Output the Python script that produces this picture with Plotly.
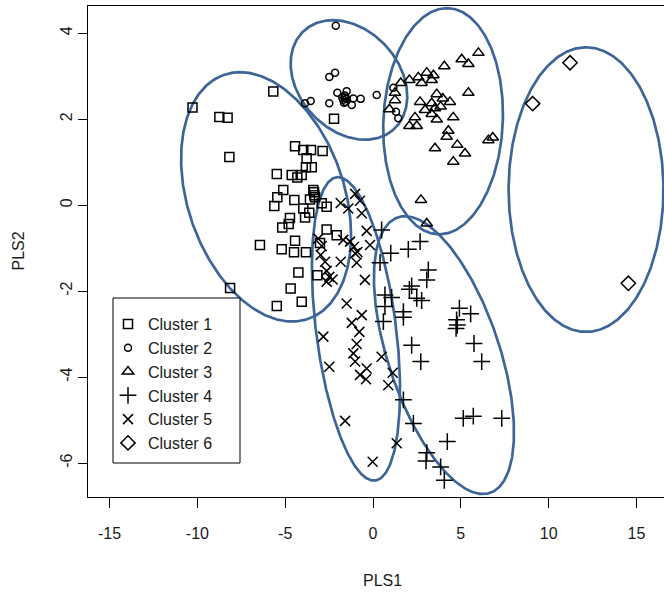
import numpy as np
import plotly.graph_objects as go

# ---------------- data ----------------
c1_x = [-10.28, -8.75, -8.28, -5.68, -2.22, -8.18, -4.44, -3.97, -3.53, -2.87, -3.78, -3.82, -3.49,
        -5.48, -4.63, -4.31, -4.06, -5.11, -5.45, -5.62, -4.48, -3.40, -3.34, -3.59, -3.97, -3.63,
        -2.92, -2.64, -4.73, -3.87, -5.17, -4.80, -6.44, -5.20, -4.44, -4.50, -3.82, -2.64, -2.07,
        -3.02, -4.25, -3.17, -4.69, -4.06, -5.48, -8.14, -3.36, -3.30]
c1_y = [2.27, 2.05, 2.03, 2.64, 2.01, 1.12, 1.37, 1.28, 1.28, 1.26, 1.09, 0.88, 0.88,
        0.72, 0.70, 0.64, 0.70, 0.35, 0.18, -0.02, 0.12, 0.35, 0.23, 0.13, -0.08, -0.18,
        0.04, -0.04, -0.30, -0.29, -0.52, -0.44, -0.93, -1.03, -0.83, -1.10, -1.10, -0.57, -0.70,
        -0.88, -1.57, -1.63, -1.94, -2.25, -2.35, -1.93, 0.30, 0.18]

c2_x = [-2.12, -2.49, -2.16, -3.55, -3.87, -2.49, -2.03, -1.50, -1.21, -1.12, -0.70, 0.21, 1.16,
        1.31, 1.44, -1.70, -1.60, -1.55, -1.65, -1.50, -1.60, -1.75]
c2_y = [4.17, 2.98, 3.08, 2.42, 2.37, 2.37, 2.61, 2.65, 2.33, 2.48, 2.47, 2.56, 2.73,
        2.17, 2.02, 2.45, 2.50, 2.40, 2.38, 2.47, 2.55, 2.50]

c3_x = [6.00, 5.05, 5.43, 4.06, 2.07, 2.58, 3.06, 3.44, 2.77, 3.34, 1.58, 1.25, 5.43, 2.68, 3.63,
        3.97, 4.38, 3.34, 3.53, 2.96, 3.85, 1.25, 0.93, 2.39, 2.07, 2.49, 3.34, 3.63, 4.57, 4.29,
        4.19, 4.80, 5.24, 3.53, 4.57, 6.82, 6.57, 2.73, 3.06]
c3_y = [3.54, 3.39, 3.28, 3.23, 2.91, 2.97, 3.08, 3.02, 2.84, 2.91, 2.84, 2.61, 2.61, 2.40, 2.58,
        2.48, 2.40, 2.37, 2.25, 2.21, 2.29, 2.44, 2.23, 2.04, 1.84, 1.84, 2.12, 1.99, 2.04, 1.73,
        1.59, 1.40, 1.20, 1.32, 1.01, 1.57, 1.51, 0.12, -0.43]

c4_x = [0.49, 2.68, 2.01, 1.01, 0.40, 3.15, 3.06, 2.20, 2.07, 0.68, 1.06, 2.49, 2.77, 0.68, 1.73,
        1.73, 0.59, 4.92, 5.56, 4.76, 4.80, 4.73, 2.20, 5.75, 2.72, 6.19, 1.73, 2.30, 5.14, 5.71,
        7.33, 4.23, 3.06, 3.02, 3.85, 4.06]
c4_y = [-0.58, -0.85, -1.03, -1.12, -1.34, -1.51, -1.74, -1.88, -1.96, -2.09, -2.15, -2.17, -2.22,
        -2.36, -2.48, -2.61, -2.71, -2.40, -2.53, -2.67, -2.79, -2.87, -3.26, -3.22, -3.64, -3.64,
        -4.53, -5.08, -4.96, -4.91, -4.96, -5.50, -5.76, -5.95, -6.09, -6.40]

c5_x = [-1.02, -0.74, -1.84, -1.41, -0.64, -0.36, -1.69, -1.31, -1.08, -0.89, -1.02, -0.17, -3.12,
        -2.92, -2.98, -2.73, -1.84, -0.93, -2.64, -2.49, -2.30, -2.64, -0.46, -1.50, -0.64, -1.21,
        -0.78, -2.83, -0.93, -1.12, -1.02, -2.49, -0.36, -0.74, -0.40, 0.49, 1.12, 0.87, -1.59,
        1.35, -0.02]
c5_y = [0.26, 0.10, 0.05, -0.08, -0.19, -0.60, -0.81, -0.85, -0.97, -1.09, -1.12, -0.93, -0.78,
        -0.95, -1.16, -1.32, -1.32, -1.34, -1.53, -1.67, -1.73, -1.78, -1.74, -2.29, -2.56, -2.74,
        -2.95, -3.06, -3.23, -3.45, -3.64, -3.76, -3.80, -3.95, -4.05, -3.53, -3.90, -4.19, -5.02,
        -5.54, -5.97]

c6_x = [11.22, 9.09, 14.54]
c6_y = [3.31, 2.36, -1.82]

cluster_names = ["Cluster 1", "Cluster 2", "Cluster 3", "Cluster 4", "Cluster 5", "Cluster 6"]

# ellipse parameters (data units): centre, topmost point, rightmost x
ell_cx = [-6.09, -1.37, 3.99, 4.04, -0.97, 12.13]
ell_cy = [0.19, 2.91, 1.95, -3.49, -2.88, 0.36]
ell_topx = [-7.57, -2.28, 4.21, 1.82, -1.99, 12.13]
ell_topy = [3.09, 4.30, 4.58, -0.26, 0.65, 3.67]
ell_right = [-1.25, 1.95, 7.40, 8.03, 1.54, 16.54]

x_ticks = [-15, -10, -5, 0, 5, 10, 15]
y_ticks = [-6, -4, -2, 0, 2, 4]

# ---------------- figure ----------------
FONT = "Arial, Liberation Sans, sans-serif"
ELL_COLOR = "#3E6597"
TXT = "#1a1a1a"
W, H = 664, 593
ML, MT, MB = 88, 6, 96
PW, PH = W - ML, H - MT - MB


def px_x(p):
    return (p - ML) / PW


def px_y(p):
    return (H - MB - p) / PH


fig = go.Figure()

t = np.linspace(0, 2 * np.pi, 361)
for cx, cy, tx, ty, rx in zip(ell_cx, ell_cy, ell_topx, ell_topy, ell_right):
    ux, uy = tx - cx, ty - cy
    h = np.sqrt(max((rx - cx) ** 2 - ux ** 2, 0.0))
    ex = cx + ux * np.cos(t) + h * np.sin(t)
    ey = cy + uy * np.cos(t)
    fig.add_trace(go.Scatter(x=ex, y=ey, mode="lines", showlegend=False, hoverinfo="skip",
                             line=dict(color=ELL_COLOR, width=2.7)))

series = [(c1_x, c1_y, "square-open", 9),
          (c2_x, c2_y, "circle-open", 7),
          (c3_x, c3_y, "triangle-up-open", 10),
          (c4_x, c4_y, "cross-thin-open", 12),
          (c5_x, c5_y, "x-thin-open", 10),
          (c6_x, c6_y, "diamond-open", 11)]

for (xs, ys, sym, sz), name in zip(series, cluster_names):
    fig.add_trace(go.Scatter(x=xs, y=ys, mode="markers", name=name,
                             marker=dict(symbol=sym, size=sz, color="black",
                                         line=dict(color="black", width=1.5))))

# legend frame (white box, legend entries drawn on top of it)
fig.add_shape(type="rect", xref="paper", yref="paper",
              x0=px_x(113), x1=px_x(240), y0=px_y(463), y1=px_y(298),
              line=dict(color="black", width=1), fillcolor="white", layer="above")

fig.add_annotation(text="PLS1", xref="paper", yref="paper", x=px_x(382), y=px_y(580),
                   xanchor="center", yanchor="middle",
                   showarrow=False, font=dict(family=FONT, size=16, color=TXT))
fig.add_annotation(text="PLS2", xref="paper", yref="paper", x=px_x(18), y=0.5,
                   xanchor="center", yanchor="middle",
                   textangle=-90, showarrow=False, font=dict(family=FONT, size=16, color=TXT))

fig.update_layout(
    width=W, height=H,
    margin=dict(l=ML, r=0, t=MT, b=MB),
    paper_bgcolor="white", plot_bgcolor="white",
    font=dict(family=FONT, size=16, color=TXT),
    legend=dict(x=px_x(108), y=px_y(307), xanchor="left", yanchor="top",
                borderwidth=0, bgcolor="rgba(0,0,0,0)",
                font=dict(family=FONT, size=16, color=TXT),
                itemwidth=30, tracegroupgap=0),
    xaxis=dict(range=[-16.23, 16.57], tickvals=x_ticks, ticktext=[str(v) for v in x_ticks],
               showgrid=False, zeroline=False, showline=True, linecolor="black", linewidth=1,
               mirror=True, ticks="outside", ticklen=10, tickcolor="black",
               ticklabelstandoff=12,
               tickfont=dict(family=FONT, size=16, color=TXT)),
    yaxis=dict(range=[-6.79, 4.63], tickvals=y_ticks, ticktext=[str(v) for v in y_ticks],
               showgrid=False, zeroline=False, showline=True, linecolor="black", linewidth=1,
               mirror=False, ticks="outside", ticklen=9, tickcolor="black", tickangle=-90,
               tickfont=dict(family=FONT, size=16, color=TXT)),
)

fig.write_html("out.html", config={"displayModeBar": False},
               post_script="document.body.style.margin='0px';")
